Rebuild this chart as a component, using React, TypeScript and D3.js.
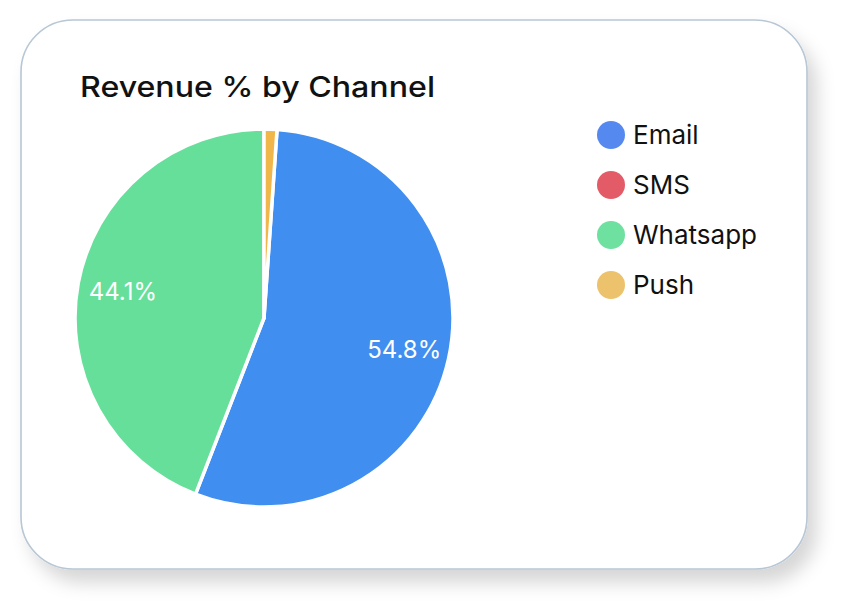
import React from "react";
import * as d3 from "d3";

const title = "Revenue % by Channel";
const categories = ["Email", "SMS", "Whatsapp", "Push"];
const values = [54.8, 0, 44.1, 1.1];
const sliceColors = ["#3f8ef0", "#e45b68", "#66df9b", "#f1b64a"];
const legendColors = ["#5689f0", "#e45b68", "#6ee0a0", "#ecc26c"];
// clockwise drawing order starting at 12 o'clock
const pieOrder = ["Push", "Email", "Whatsapp", "SMS"];

const W = 844;
const H = 605;
const cx = 264;
const cy = 318;
const R = 189;
const FONT = "Inter, 'Open Sans', sans-serif";

export default function App() {
  const data = categories.map((c, i) => ({ name: c, value: values[i], i }));
  const pie = d3
    .pie<any>()
    .value((d) => d.value)
    .sort((a, b) => pieOrder.indexOf(a.name) - pieOrder.indexOf(b.name));
  const arcs = pie(data);
  const arc = d3.arc<any>().innerRadius(0).outerRadius(R);
  const labelArc = d3.arc<any>().innerRadius(R * 0.76).outerRadius(R * 0.76);
  const legendY = d3.scaleLinear().domain([0, 1]).range([135, 185]);

  return (
    <svg
      width={W}
      height={H}
      style={{ position: "absolute", left: 0, top: 0, background: "#ffffff" }}
    >
      <defs>
        <filter id="shadow" x="-10%" y="-10%" width="130%" height="130%">
          <feDropShadow dx="9" dy="13" stdDeviation="9" floodColor="#000" floodOpacity="0.16" />
        </filter>
      </defs>
      <rect
        x={21}
        y={20}
        width={786}
        height={549}
        rx={52}
        ry={52}
        fill="#ffffff"
        stroke="#b7c7d5"
        strokeWidth={1.6}
        filter="url(#shadow)"
      />
      <text
        x={80}
        y={97}
        fontFamily={FONT}
        fontWeight={500}
        fontSize={29}
        fill="#111"
        textLength={355}
        lengthAdjust="spacingAndGlyphs"
      >
        {title}
      </text>
      <g transform={`translate(${cx},${cy})`}>
        {arcs.map((a) => (
          <path
            key={a.data.name}
            d={arc(a) || ""}
            fill={sliceColors[a.data.i]}
            stroke="#ffffff"
            strokeWidth={3.5}
            strokeLinejoin="round"
          />
        ))}
        {arcs
          .filter((a) => a.data.value >= 5)
          .map((a) => {
            const [lx, ly] = labelArc.centroid(a);
            return (
              <text
                key={"l" + a.data.name}
                x={lx}
                y={ly}
                dy="0.35em"
                textAnchor="middle"
                fontFamily={FONT}
                fontSize={24}
                fill="#ffffff"
              >
                {a.data.value.toFixed(1) + "%"}
              </text>
            );
          })}
      </g>
      {categories.map((c, i) => (
        <g key={c} transform={`translate(611,${legendY(i)})`}>
          <circle r={14} fill={legendColors[i]} />
          <text
            x={22}
            y={0}
            dy="0.35em"
            fontFamily={FONT}
            fontSize={26}
            fill="#111"
          >
            {c}
          </text>
        </g>
      ))}
    </svg>
  );
}
